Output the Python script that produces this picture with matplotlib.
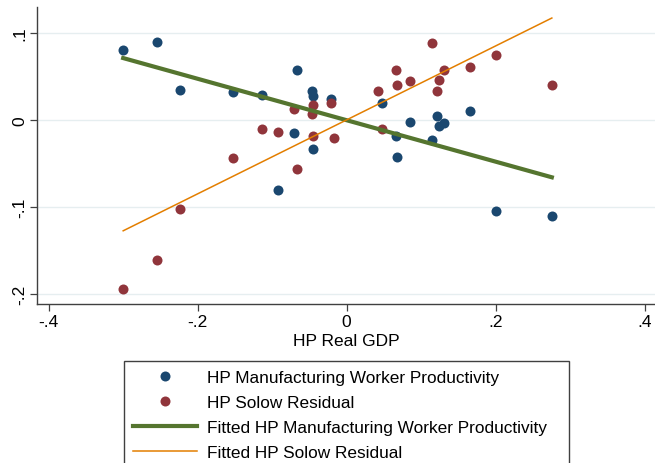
import matplotlib
matplotlib.use("Agg")
import matplotlib.pyplot as plt

plt.rcParams["font.family"] = ["Liberation Sans", "DejaVu Sans"]

# HP-filtered cyclical components
gdp_mfg = [-0.300, -0.254, -0.224, -0.153, -0.113, -0.092, -0.071, -0.067,
           -0.047, -0.045, -0.045, -0.021, 0.047, 0.066, 0.068, 0.085,
           0.114, 0.121, 0.124, 0.131, 0.165, 0.200, 0.276]
mfg_prod = [0.080, 0.090, 0.035, 0.032, 0.029, -0.081, -0.015, 0.057,
            0.033, 0.027, -0.033, 0.024, 0.020, -0.019, -0.043, -0.002,
            -0.023, 0.005, -0.007, -0.004, 0.010, -0.105, -0.111]

gdp_solow = [-0.300, -0.254, -0.224, -0.153, -0.113, -0.092, -0.071, -0.067,
             -0.047, -0.045, -0.045, -0.021, -0.017, 0.042, 0.047, 0.066,
             0.068, 0.085, 0.114, 0.121, 0.124, 0.131, 0.165, 0.200, 0.276]
solow_resid = [-0.195, -0.161, -0.103, -0.044, -0.010, -0.014, 0.013, -0.057,
               0.007, 0.017, -0.019, 0.020, -0.021, 0.033, -0.011, 0.057,
               0.040, 0.045, 0.089, 0.033, 0.046, 0.057, 0.061, 0.075, 0.040]

# fitted values at the ends of the GDP range
fit_x = [-0.300, 0.2755]
fit_mfg = [0.0712, -0.0661]
fit_solow = [-0.1277, 0.1173]

navy = "#1a476f"
maroon = "#90353b"
green = "#55752f"
orange = "#e37e00"

fig = plt.figure(figsize=(6.55, 4.64), dpi=100)
ax = fig.add_axes([37 / 655, 1 - 305 / 464, 1 - 37 / 655, (305 - 8) / 464])

ax.plot(gdp_mfg, mfg_prod, "o", color=navy, markersize=7.2, markeredgewidth=0,
        label="HP Manufacturing Worker Productivity", zorder=3)
ax.plot(gdp_solow, solow_resid, "o", color=maroon, markersize=7.2, markeredgewidth=0,
        label="HP Solow Residual", zorder=3)
ax.plot(fit_x, fit_mfg, "-", color=green, linewidth=3.0,
        label="Fitted HP Manufacturing Worker Productivity", zorder=4)
ax.plot(fit_x, fit_solow, "-", color=orange, linewidth=1.1,
        label="Fitted HP Solow Residual", zorder=4)

ax.set_xlim(-0.4157, 0.414)
ax.set_ylim(-0.212, 0.130)
ax.set_xticks([-0.4, -0.2, 0, 0.2, 0.4])
ax.set_xticklabels(["-.4", "-.2", "0", ".2", ".4"])
ax.set_yticks([-0.2, -0.1, 0, 0.1])
ax.set_yticklabels(["-.2", "-.1", "0", ".1"], rotation=90, va="center")

ax.grid(axis="y", color="#e6eef0", linewidth=1.0)
ax.set_axisbelow(True)
for side in ("top", "right"):
    ax.spines[side].set_visible(False)
for side in ("left", "bottom"):
    ax.spines[side].set_color("#404040")
    ax.spines[side].set_linewidth(1.0)
ax.tick_params(direction="out", length=5, width=0.9, color="#404040",
               labelsize=12.5, pad=2)

ax.set_xlabel("HP Real GDP", fontsize=12.5, labelpad=3)

fig.legend(loc="upper left",
           bbox_to_anchor=(124 / 655, 1 - 362 / 464, (569 - 124) / 655, 0.0),
           mode="expand", borderaxespad=0, fontsize=12.4, frameon=True,
           fancybox=False, edgecolor="#404040", framealpha=1,
           handlelength=3.75, handletextpad=0.55, labelspacing=0.58,
           borderpad=0.5)

fig.savefig("out.png", dpi=100)
